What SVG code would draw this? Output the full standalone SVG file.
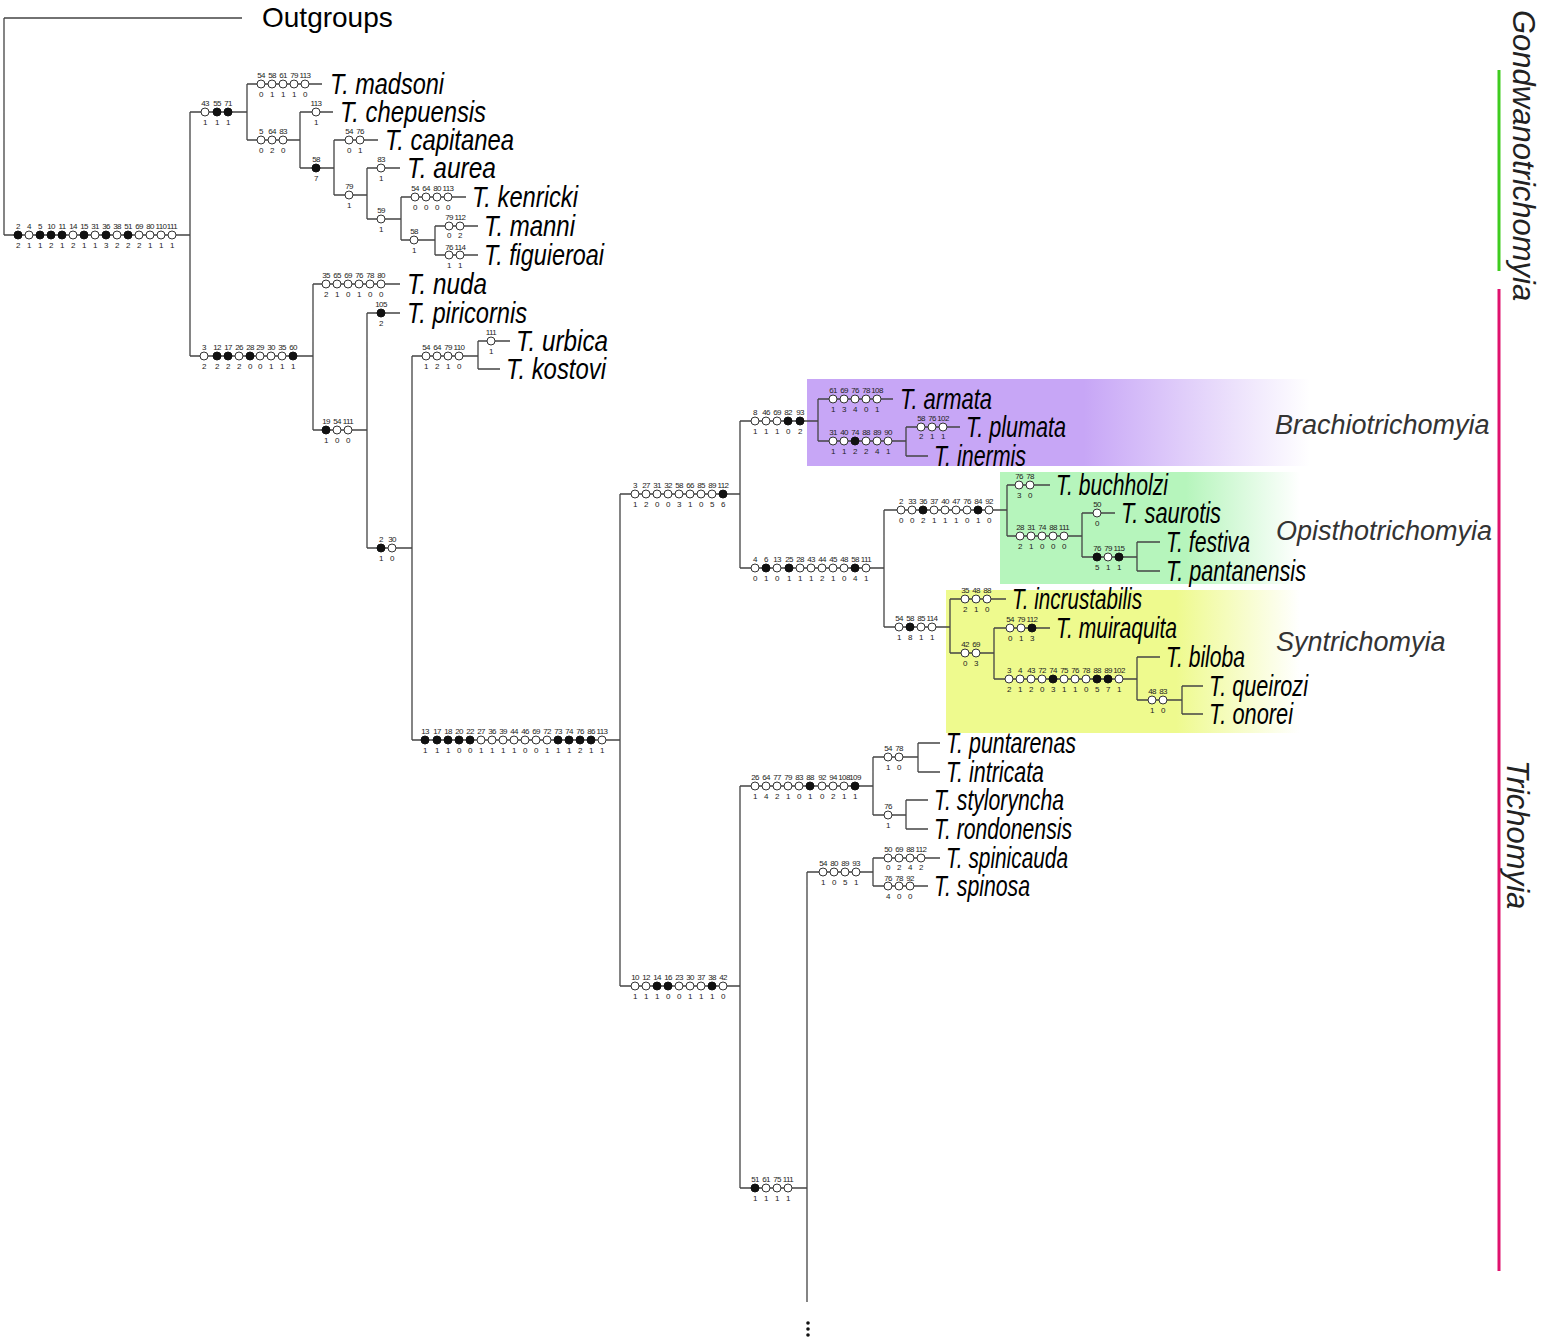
<svg xmlns="http://www.w3.org/2000/svg" width="1541" height="1341" viewBox="0 0 1541 1341">
<style>
.e{fill:none;stroke:#444;stroke-width:1.3}
.o{fill:#fff;stroke:#333;stroke-width:1}
.f{fill:#111;stroke:#111;stroke-width:1}
.n{font-family:"Liberation Sans",Arial,sans-serif;font-size:8px;letter-spacing:-0.6px;text-anchor:middle;fill:#222}
.t{font-family:"Liberation Sans",Arial,sans-serif;font-size:30px;font-style:italic;fill:#000}
.c{font-family:"Liberation Sans",Arial,sans-serif;font-size:27px;font-style:italic;fill:#333}
.g{font-family:"Liberation Sans",Arial,sans-serif;font-size:31px;font-style:italic;fill:#222}
</style>
<defs>
<linearGradient id="gp" x1="0" x2="1" y1="0" y2="0"><stop offset="0" stop-color="#c7a6f6"/><stop offset="0.55" stop-color="#c7a6f6"/><stop offset="1" stop-color="#c7a6f6" stop-opacity="0"/></linearGradient>
<linearGradient id="gg" x1="0" x2="1" y1="0" y2="0"><stop offset="0" stop-color="#b6f5bc"/><stop offset="0.62" stop-color="#b6f5bc"/><stop offset="1" stop-color="#b6f5bc" stop-opacity="0"/></linearGradient>
<linearGradient id="gy" x1="0" x2="1" y1="0" y2="0"><stop offset="0" stop-color="#eefa8e"/><stop offset="0.65" stop-color="#eefa8e"/><stop offset="1" stop-color="#eefa8e" stop-opacity="0"/></linearGradient>
</defs>
<rect width="1541" height="1341" fill="#fff"/>
<g id="clade-boxes">
<rect x="807" y="379" width="503" height="87" fill="url(#gp)"/>
<rect x="1000" y="472" width="300" height="112" fill="url(#gg)"/>
<rect x="946" y="590" width="354" height="143" fill="url(#gy)"/>
</g>
<g id="connectors" class="e">
<path d="M4 18V235M4 18H242M4 235H190M190 112V356M190 112H247M247 84V140M247 84H322M247 140H300M300 112V168M300 112H333M300 168H334M334 140V195M334 140H378M334 195H367M367 168V219M367 168H400M367 219H401M401 197V240M401 197H466M401 240H435M435 226V255M435 226H478M435 255H478"/>
<path d="M190 356H313M313 284V430M313 284H400M313 430H367M367 313V548M367 313H400M367 548H412M412 356V740M412 356H478M478 341V369M478 341H510M478 369H500M412 740H620M620 494V986M620 494H740M740 421V568M740 421H818M818 399V441M818 399H893M818 441H906M906 427V456M906 427H960M906 456H928"/>
<path d="M740 568H884M884 510V627M884 510H1007M1007 485V536M1007 485H1050M1007 536H1082M1082 513V557M1082 513H1115M1082 557H1137M1137 542V571M1137 542H1160M1137 571H1160M884 627H950M950 599V653M950 599H1006M950 653H994M994 628V679M994 628H1050M994 679H1137M1137 657V700M1137 657H1160M1137 700H1182M1182 686V714M1182 686H1203M1182 714H1203"/>
<path d="M620 986H740M740 786V1188M740 786H873M873 757V815M873 757H918M918 743V772M918 743H940M918 772H940M873 815H906M906 800V829M906 800H928M906 829H928M740 1188H807M807 872V1302M807 872H873M873 858V886M873 858H940M873 886H928"/>
</g>
<g id="outgroups"><text x="262" y="27" font-family="Liberation Sans, Arial, sans-serif" font-size="28" fill="#000">Outgroups</text></g>
<g id="tips" class="t">
<text id="t-madsoni" x="330" y="94" textLength="114" lengthAdjust="spacingAndGlyphs">T. madsoni</text>
<text id="t-chepuensis" x="340" y="122" textLength="146" lengthAdjust="spacingAndGlyphs">T. chepuensis</text>
<text id="t-capitanea" x="385" y="150" textLength="129" lengthAdjust="spacingAndGlyphs">T. capitanea</text>
<text id="t-aurea" x="407" y="178" textLength="89" lengthAdjust="spacingAndGlyphs">T. aurea</text>
<text id="t-kenricki" x="472" y="207" textLength="106" lengthAdjust="spacingAndGlyphs">T. kenricki</text>
<text id="t-manni" x="484" y="236" textLength="91" lengthAdjust="spacingAndGlyphs">T. manni</text>
<text id="t-figuieroai" x="484" y="265" textLength="120" lengthAdjust="spacingAndGlyphs">T. figuieroai</text>
<text id="t-nuda" x="407" y="294" textLength="80" lengthAdjust="spacingAndGlyphs">T. nuda</text>
<text id="t-piricornis" x="407" y="323" textLength="120" lengthAdjust="spacingAndGlyphs">T. piricornis</text>
<text id="t-urbica" x="516" y="351" textLength="92" lengthAdjust="spacingAndGlyphs">T. urbica</text>
<text id="t-kostovi" x="506" y="379" textLength="100" lengthAdjust="spacingAndGlyphs">T. kostovi</text>
<text id="t-armata" x="900" y="409" textLength="92" lengthAdjust="spacingAndGlyphs">T. armata</text>
<text id="t-plumata" x="966" y="437" textLength="100" lengthAdjust="spacingAndGlyphs">T. plumata</text>
<text id="t-inermis" x="934" y="466" textLength="92" lengthAdjust="spacingAndGlyphs">T. inermis</text>
<text id="t-buchholzi" x="1056" y="495" textLength="112" lengthAdjust="spacingAndGlyphs">T. buchholzi</text>
<text id="t-saurotis" x="1121" y="523" textLength="100" lengthAdjust="spacingAndGlyphs">T. saurotis</text>
<text id="t-festiva" x="1166" y="552" textLength="84" lengthAdjust="spacingAndGlyphs">T. festiva</text>
<text id="t-pantanensis" x="1166" y="581" textLength="140" lengthAdjust="spacingAndGlyphs">T. pantanensis</text>
<text id="t-incrustabilis" x="1012" y="609" textLength="130" lengthAdjust="spacingAndGlyphs">T. incrustabilis</text>
<text id="t-muiraquita" x="1056" y="638" textLength="121" lengthAdjust="spacingAndGlyphs">T. muiraquita</text>
<text id="t-biloba" x="1166" y="667" textLength="79" lengthAdjust="spacingAndGlyphs">T. biloba</text>
<text id="t-queirozi" x="1209" y="696" textLength="99" lengthAdjust="spacingAndGlyphs">T. queirozi</text>
<text id="t-onorei" x="1209" y="724" textLength="84" lengthAdjust="spacingAndGlyphs">T. onorei</text>
<text id="t-puntarenas" x="946" y="753" textLength="130" lengthAdjust="spacingAndGlyphs">T. puntarenas</text>
<text id="t-intricata" x="946" y="782" textLength="98" lengthAdjust="spacingAndGlyphs">T. intricata</text>
<text id="t-styloryncha" x="934" y="810" textLength="130" lengthAdjust="spacingAndGlyphs">T. styloryncha</text>
<text id="t-rondonensis" x="934" y="839" textLength="138" lengthAdjust="spacingAndGlyphs">T. rondonensis</text>
<text id="t-spinicauda" x="946" y="868" textLength="122" lengthAdjust="spacingAndGlyphs">T. spinicauda</text>
<text id="t-spinosa" x="934" y="896" textLength="96" lengthAdjust="spacingAndGlyphs">T. spinosa</text>
</g>
<g id="clade-labels" class="c">
<text x="1275" y="434">Brachiotrichomyia</text>
<text x="1276" y="540">Opisthotrichomyia</text>
<text x="1276" y="651">Syntrichomyia</text>
</g>
<g id="groups">
<path d="M1499 70V271" stroke="#3fcc1f" stroke-width="3"/>
<path d="M1499 289V1271" stroke="#e0126e" stroke-width="3"/>
<text class="g" transform="translate(1513,10) rotate(90)">Gondwanotrichomyia</text>
<text class="g" transform="translate(1507,760) rotate(90)">Trichomyia</text>
</g>
<g id="n-root" transform="translate(0,235)">
<circle class="f" cx="18" r="4"/><circle class="o" cx="29" r="4"/><circle class="f" cx="40" r="4"/><circle class="f" cx="51" r="4"/><circle class="f" cx="62" r="4"/><circle class="o" cx="73" r="4"/><circle class="f" cx="84" r="4"/><circle class="o" cx="95" r="4"/><circle class="f" cx="106" r="4"/><circle class="o" cx="117" r="4"/><circle class="f" cx="128" r="4"/><circle class="o" cx="139" r="4"/><circle class="o" cx="150" r="4"/><circle class="o" cx="161" r="4"/><circle class="o" cx="172" r="4"/>
<text class="n" y="-6"><tspan x="18">2</tspan><tspan x="29">4</tspan><tspan x="40">5</tspan><tspan x="51">10</tspan><tspan x="62">11</tspan><tspan x="73">14</tspan><tspan x="84">15</tspan><tspan x="95">31</tspan><tspan x="106">36</tspan><tspan x="117">38</tspan><tspan x="128">51</tspan><tspan x="139">69</tspan><tspan x="150">80</tspan><tspan x="161">110</tspan><tspan x="172">111</tspan></text>
<text class="n" y="13"><tspan x="18">2</tspan><tspan x="29">1</tspan><tspan x="40">1</tspan><tspan x="51">2</tspan><tspan x="62">1</tspan><tspan x="73">2</tspan><tspan x="84">1</tspan><tspan x="95">1</tspan><tspan x="106">3</tspan><tspan x="117">2</tspan><tspan x="128">2</tspan><tspan x="139">2</tspan><tspan x="150">1</tspan><tspan x="161">1</tspan><tspan x="172">1</tspan></text>
</g>
<g id="n-gondwano" transform="translate(0,112)">
<circle class="o" cx="205" r="4"/><circle class="f" cx="217" r="4"/><circle class="f" cx="228" r="4"/>
<text class="n" y="-6"><tspan x="205">43</tspan><tspan x="217">55</tspan><tspan x="228">71</tspan></text>
<text class="n" y="13"><tspan x="205">1</tspan><tspan x="217">1</tspan><tspan x="228">1</tspan></text>
</g>
<g id="n-madsoni" transform="translate(0,84)">
<circle class="o" cx="261" r="4"/><circle class="o" cx="272" r="4"/><circle class="o" cx="283" r="4"/><circle class="o" cx="294" r="4"/><circle class="o" cx="305" r="4"/>
<text class="n" y="-6"><tspan x="261">54</tspan><tspan x="272">58</tspan><tspan x="283">61</tspan><tspan x="294">79</tspan><tspan x="305">113</tspan></text>
<text class="n" y="13"><tspan x="261">0</tspan><tspan x="272">1</tspan><tspan x="283">1</tspan><tspan x="294">1</tspan><tspan x="305">0</tspan></text>
</g>
<g id="n-a1" transform="translate(0,140)">
<circle class="o" cx="261" r="4"/><circle class="o" cx="272" r="4"/><circle class="o" cx="283" r="4"/>
<text class="n" y="-6"><tspan x="261">5</tspan><tspan x="272">64</tspan><tspan x="283">83</tspan></text>
<text class="n" y="13"><tspan x="261">0</tspan><tspan x="272">2</tspan><tspan x="283">0</tspan></text>
</g>
<g id="n-chepuensis" transform="translate(0,112)">
<circle class="o" cx="316" r="4"/>
<text class="n" y="-6" x="316">113</text><text class="n" y="13" x="316">1</text>
</g>
<g id="n-a2" transform="translate(0,168)">
<circle class="f" cx="316" r="4"/>
<text class="n" y="-6" x="316">58</text><text class="n" y="13" x="316">7</text>
</g>
<g id="n-capitanea" transform="translate(0,140)">
<circle class="o" cx="349" r="4"/><circle class="o" cx="360" r="4"/>
<text class="n" y="-6"><tspan x="349">54</tspan><tspan x="360">76</tspan></text>
<text class="n" y="13"><tspan x="349">0</tspan><tspan x="360">1</tspan></text>
</g>
<g id="n-a3" transform="translate(0,195)">
<circle class="o" cx="349" r="4"/>
<text class="n" y="-6" x="349">79</text><text class="n" y="13" x="349">1</text>
</g>
<g id="n-aurea" transform="translate(0,168)">
<circle class="o" cx="381" r="4"/>
<text class="n" y="-6" x="381">83</text><text class="n" y="13" x="381">1</text>
</g>
<g id="n-a4" transform="translate(0,219)">
<circle class="o" cx="381" r="4"/>
<text class="n" y="-6" x="381">59</text><text class="n" y="13" x="381">1</text>
</g>
<g id="n-kenricki" transform="translate(0,197)">
<circle class="o" cx="415" r="4"/><circle class="o" cx="426" r="4"/><circle class="o" cx="437" r="4"/><circle class="o" cx="448" r="4"/>
<text class="n" y="-6"><tspan x="415">54</tspan><tspan x="426">64</tspan><tspan x="437">80</tspan><tspan x="448">113</tspan></text>
<text class="n" y="13"><tspan x="415">0</tspan><tspan x="426">0</tspan><tspan x="437">0</tspan><tspan x="448">0</tspan></text>
</g>
<g id="n-a5" transform="translate(0,240)">
<circle class="o" cx="414" r="4"/>
<text class="n" y="-6" x="414">58</text><text class="n" y="13" x="414">1</text>
</g>
<g id="n-manni" transform="translate(0,226)">
<circle class="o" cx="449" r="4"/><circle class="o" cx="460" r="4"/>
<text class="n" y="-6"><tspan x="449">79</tspan><tspan x="460">112</tspan></text>
<text class="n" y="12"><tspan x="449">0</tspan><tspan x="460">2</tspan></text>
</g>
<g id="n-figuieroai" transform="translate(0,255)">
<circle class="o" cx="449" r="4"/><circle class="o" cx="460" r="4"/>
<text class="n" y="-5"><tspan x="449">76</tspan><tspan x="460">114</tspan></text>
<text class="n" y="13"><tspan x="449">1</tspan><tspan x="460">1</tspan></text>
</g>
<g id="n-b1" transform="translate(0,356)">
<circle class="o" cx="204" r="4"/><circle class="f" cx="217" r="4"/><circle class="f" cx="228" r="4"/><circle class="o" cx="239" r="4"/><circle class="f" cx="250" r="4"/><circle class="o" cx="260" r="4"/><circle class="o" cx="271" r="4"/><circle class="o" cx="282" r="4"/><circle class="f" cx="293" r="4"/>
<text class="n" y="-6"><tspan x="204">3</tspan><tspan x="217">12</tspan><tspan x="228">17</tspan><tspan x="239">26</tspan><tspan x="250">28</tspan><tspan x="260">29</tspan><tspan x="271">30</tspan><tspan x="282">35</tspan><tspan x="293">60</tspan></text>
<text class="n" y="13"><tspan x="204">2</tspan><tspan x="217">2</tspan><tspan x="228">2</tspan><tspan x="239">2</tspan><tspan x="250">0</tspan><tspan x="260">0</tspan><tspan x="271">1</tspan><tspan x="282">1</tspan><tspan x="293">1</tspan></text>
</g>
<g id="n-nuda" transform="translate(0,284)">
<circle class="o" cx="326" r="4"/><circle class="o" cx="337" r="4"/><circle class="o" cx="348" r="4"/><circle class="o" cx="359" r="4"/><circle class="o" cx="370" r="4"/><circle class="o" cx="381" r="4"/>
<text class="n" y="-6"><tspan x="326">35</tspan><tspan x="337">65</tspan><tspan x="348">69</tspan><tspan x="359">76</tspan><tspan x="370">78</tspan><tspan x="381">80</tspan></text>
<text class="n" y="13"><tspan x="326">2</tspan><tspan x="337">1</tspan><tspan x="348">0</tspan><tspan x="359">1</tspan><tspan x="370">0</tspan><tspan x="381">0</tspan></text>
</g>
<g id="n-b2" transform="translate(0,430)">
<circle class="f" cx="326" r="4"/><circle class="o" cx="337" r="4"/><circle class="o" cx="348" r="4"/>
<text class="n" y="-6"><tspan x="326">19</tspan><tspan x="337">54</tspan><tspan x="348">111</tspan></text>
<text class="n" y="13"><tspan x="326">1</tspan><tspan x="337">0</tspan><tspan x="348">0</tspan></text>
</g>
<g id="n-piricornis" transform="translate(0,313)">
<circle class="f" cx="381" r="4"/>
<text class="n" y="-6" x="381">105</text><text class="n" y="13" x="381">2</text>
</g>
<g id="n-b3" transform="translate(0,548)">
<circle class="f" cx="381" r="4"/><circle class="o" cx="392" r="4"/>
<text class="n" y="-6"><tspan x="381">2</tspan><tspan x="392">30</tspan></text>
<text class="n" y="13"><tspan x="381">1</tspan><tspan x="392">0</tspan></text>
</g>
<g id="n-b4" transform="translate(0,356)">
<circle class="o" cx="426" r="4"/><circle class="o" cx="437" r="4"/><circle class="o" cx="448" r="4"/><circle class="o" cx="459" r="4"/>
<text class="n" y="-6"><tspan x="426">54</tspan><tspan x="437">64</tspan><tspan x="448">79</tspan><tspan x="459">110</tspan></text>
<text class="n" y="13"><tspan x="426">1</tspan><tspan x="437">2</tspan><tspan x="448">1</tspan><tspan x="459">0</tspan></text>
</g>
<g id="n-urbica" transform="translate(0,341)">
<circle class="o" cx="491" r="4"/>
<text class="n" y="-6" x="491">111</text><text class="n" y="13" x="491">1</text>
</g>
<g id="n-b5" transform="translate(0,740)">
<circle class="f" cx="425" r="4"/><circle class="f" cx="437" r="4"/><circle class="f" cx="448" r="4"/><circle class="f" cx="459" r="4"/><circle class="f" cx="470" r="4"/><circle class="o" cx="481" r="4"/><circle class="o" cx="492" r="4"/><circle class="o" cx="503" r="4"/><circle class="o" cx="514" r="4"/><circle class="o" cx="525" r="4"/><circle class="o" cx="536" r="4"/><circle class="o" cx="547" r="4"/><circle class="f" cx="558" r="4"/><circle class="f" cx="569" r="4"/><circle class="f" cx="580" r="4"/><circle class="f" cx="591" r="4"/><circle class="o" cx="602" r="4"/>
<text class="n" y="-6"><tspan x="425">13</tspan><tspan x="437">17</tspan><tspan x="448">18</tspan><tspan x="459">20</tspan><tspan x="470">22</tspan><tspan x="481">27</tspan><tspan x="492">36</tspan><tspan x="503">39</tspan><tspan x="514">44</tspan><tspan x="525">46</tspan><tspan x="536">69</tspan><tspan x="547">72</tspan><tspan x="558">73</tspan><tspan x="569">74</tspan><tspan x="580">76</tspan><tspan x="591">86</tspan><tspan x="602">113</tspan></text>
<text class="n" y="13"><tspan x="425">1</tspan><tspan x="437">1</tspan><tspan x="448">1</tspan><tspan x="459">0</tspan><tspan x="470">0</tspan><tspan x="481">1</tspan><tspan x="492">1</tspan><tspan x="503">1</tspan><tspan x="514">1</tspan><tspan x="525">0</tspan><tspan x="536">0</tspan><tspan x="547">1</tspan><tspan x="558">1</tspan><tspan x="569">1</tspan><tspan x="580">2</tspan><tspan x="591">1</tspan><tspan x="602">1</tspan></text>
</g>
<g id="n-c1" transform="translate(0,494)">
<circle class="o" cx="635" r="4"/><circle class="o" cx="646" r="4"/><circle class="o" cx="657" r="4"/><circle class="o" cx="668" r="4"/><circle class="o" cx="679" r="4"/><circle class="o" cx="690" r="4"/><circle class="o" cx="701" r="4"/><circle class="o" cx="712" r="4"/><circle class="f" cx="723" r="4"/>
<text class="n" y="-6"><tspan x="635">3</tspan><tspan x="646">27</tspan><tspan x="657">31</tspan><tspan x="668">32</tspan><tspan x="679">58</tspan><tspan x="690">66</tspan><tspan x="701">85</tspan><tspan x="712">89</tspan><tspan x="723">112</tspan></text>
<text class="n" y="13"><tspan x="635">1</tspan><tspan x="646">2</tspan><tspan x="657">0</tspan><tspan x="668">0</tspan><tspan x="679">3</tspan><tspan x="690">1</tspan><tspan x="701">0</tspan><tspan x="712">5</tspan><tspan x="723">6</tspan></text>
</g>
<g id="n-brachio" transform="translate(0,421)">
<circle class="o" cx="755" r="4"/><circle class="o" cx="766" r="4"/><circle class="o" cx="777" r="4"/><circle class="f" cx="788" r="4"/><circle class="f" cx="800" r="4"/>
<text class="n" y="-6"><tspan x="755">8</tspan><tspan x="766">46</tspan><tspan x="777">69</tspan><tspan x="788">82</tspan><tspan x="800">93</tspan></text>
<text class="n" y="13"><tspan x="755">1</tspan><tspan x="766">1</tspan><tspan x="777">1</tspan><tspan x="788">0</tspan><tspan x="800">2</tspan></text>
</g>
<g id="n-armata" transform="translate(0,399)">
<circle class="o" cx="833" r="4"/><circle class="o" cx="844" r="4"/><circle class="o" cx="855" r="4"/><circle class="o" cx="866" r="4"/><circle class="o" cx="877" r="4"/>
<text class="n" y="-6"><tspan x="833">61</tspan><tspan x="844">69</tspan><tspan x="855">76</tspan><tspan x="866">78</tspan><tspan x="877">108</tspan></text>
<text class="n" y="13"><tspan x="833">1</tspan><tspan x="844">3</tspan><tspan x="855">4</tspan><tspan x="866">0</tspan><tspan x="877">1</tspan></text>
</g>
<g id="n-c2" transform="translate(0,441)">
<circle class="o" cx="833" r="4"/><circle class="o" cx="844" r="4"/><circle class="f" cx="855" r="4"/><circle class="o" cx="866" r="4"/><circle class="o" cx="877" r="4"/><circle class="o" cx="888" r="4"/>
<text class="n" y="-6"><tspan x="833">31</tspan><tspan x="844">40</tspan><tspan x="855">74</tspan><tspan x="866">88</tspan><tspan x="877">89</tspan><tspan x="888">90</tspan></text>
<text class="n" y="13"><tspan x="833">1</tspan><tspan x="844">1</tspan><tspan x="855">2</tspan><tspan x="866">2</tspan><tspan x="877">4</tspan><tspan x="888">1</tspan></text>
</g>
<g id="n-plumata" transform="translate(0,427)">
<circle class="o" cx="921" r="4"/><circle class="o" cx="932" r="4"/><circle class="o" cx="943" r="4"/>
<text class="n" y="-6"><tspan x="921">58</tspan><tspan x="932">76</tspan><tspan x="943">102</tspan></text>
<text class="n" y="12"><tspan x="921">2</tspan><tspan x="932">1</tspan><tspan x="943">1</tspan></text>
</g>
<g id="n-c3" transform="translate(0,568)">
<circle class="o" cx="755" r="4"/><circle class="f" cx="766" r="4"/><circle class="o" cx="777" r="4"/><circle class="f" cx="789" r="4"/><circle class="o" cx="800" r="4"/><circle class="o" cx="811" r="4"/><circle class="o" cx="822" r="4"/><circle class="o" cx="833" r="4"/><circle class="o" cx="844" r="4"/><circle class="f" cx="855" r="4"/><circle class="o" cx="866" r="4"/>
<text class="n" y="-6"><tspan x="755">4</tspan><tspan x="766">6</tspan><tspan x="777">13</tspan><tspan x="789">25</tspan><tspan x="800">28</tspan><tspan x="811">43</tspan><tspan x="822">44</tspan><tspan x="833">45</tspan><tspan x="844">48</tspan><tspan x="855">58</tspan><tspan x="866">111</tspan></text>
<text class="n" y="13"><tspan x="755">0</tspan><tspan x="766">1</tspan><tspan x="777">0</tspan><tspan x="789">1</tspan><tspan x="800">1</tspan><tspan x="811">1</tspan><tspan x="822">2</tspan><tspan x="833">1</tspan><tspan x="844">0</tspan><tspan x="855">4</tspan><tspan x="866">1</tspan></text>
</g>
<g id="n-opistho" transform="translate(0,510)">
<circle class="o" cx="901" r="4"/><circle class="o" cx="912" r="4"/><circle class="f" cx="923" r="4"/><circle class="o" cx="934" r="4"/><circle class="o" cx="945" r="4"/><circle class="o" cx="956" r="4"/><circle class="o" cx="967" r="4"/><circle class="f" cx="978" r="4"/><circle class="o" cx="989" r="4"/>
<text class="n" y="-6"><tspan x="901">2</tspan><tspan x="912">33</tspan><tspan x="923">36</tspan><tspan x="934">37</tspan><tspan x="945">40</tspan><tspan x="956">47</tspan><tspan x="967">76</tspan><tspan x="978">84</tspan><tspan x="989">92</tspan></text>
<text class="n" y="13"><tspan x="901">0</tspan><tspan x="912">0</tspan><tspan x="923">2</tspan><tspan x="934">1</tspan><tspan x="945">1</tspan><tspan x="956">1</tspan><tspan x="967">0</tspan><tspan x="978">1</tspan><tspan x="989">0</tspan></text>
</g>
<g id="n-buchholzi" transform="translate(0,485)">
<circle class="o" cx="1019" r="4"/><circle class="o" cx="1030" r="4"/>
<text class="n" y="-6"><tspan x="1019">76</tspan><tspan x="1030">78</tspan></text>
<text class="n" y="13"><tspan x="1019">3</tspan><tspan x="1030">0</tspan></text>
</g>
<g id="n-d1" transform="translate(0,536)">
<circle class="o" cx="1020" r="4"/><circle class="o" cx="1031" r="4"/><circle class="o" cx="1042" r="4"/><circle class="o" cx="1053" r="4"/><circle class="o" cx="1064" r="4"/>
<text class="n" y="-6"><tspan x="1020">28</tspan><tspan x="1031">31</tspan><tspan x="1042">74</tspan><tspan x="1053">88</tspan><tspan x="1064">111</tspan></text>
<text class="n" y="13"><tspan x="1020">2</tspan><tspan x="1031">1</tspan><tspan x="1042">0</tspan><tspan x="1053">0</tspan><tspan x="1064">0</tspan></text>
</g>
<g id="n-saurotis" transform="translate(0,513)">
<circle class="o" cx="1097" r="4"/>
<text class="n" y="-6" x="1097">50</text><text class="n" y="13" x="1097">0</text>
</g>
<g id="n-d2" transform="translate(0,557)">
<circle class="f" cx="1097" r="4"/><circle class="o" cx="1108" r="4"/><circle class="f" cx="1119" r="4"/>
<text class="n" y="-6"><tspan x="1097">76</tspan><tspan x="1108">79</tspan><tspan x="1119">115</tspan></text>
<text class="n" y="13"><tspan x="1097">5</tspan><tspan x="1108">1</tspan><tspan x="1119">1</tspan></text>
</g>
<g id="n-syn" transform="translate(0,627)">
<circle class="o" cx="899" r="4"/><circle class="f" cx="910" r="4"/><circle class="o" cx="921" r="4"/><circle class="o" cx="932" r="4"/>
<text class="n" y="-6"><tspan x="899">54</tspan><tspan x="910">58</tspan><tspan x="921">85</tspan><tspan x="932">114</tspan></text>
<text class="n" y="13"><tspan x="899">1</tspan><tspan x="910">8</tspan><tspan x="921">1</tspan><tspan x="932">1</tspan></text>
</g>
<g id="n-incrustabilis" transform="translate(0,599)">
<circle class="o" cx="965" r="4"/><circle class="o" cx="976" r="4"/><circle class="o" cx="987" r="4"/>
<text class="n" y="-6"><tspan x="965">35</tspan><tspan x="976">48</tspan><tspan x="987">88</tspan></text>
<text class="n" y="13"><tspan x="965">2</tspan><tspan x="976">1</tspan><tspan x="987">0</tspan></text>
</g>
<g id="n-e1" transform="translate(0,653)">
<circle class="o" cx="965" r="4"/><circle class="o" cx="976" r="4"/>
<text class="n" y="-6"><tspan x="965">42</tspan><tspan x="976">69</tspan></text>
<text class="n" y="13"><tspan x="965">0</tspan><tspan x="976">3</tspan></text>
</g>
<g id="n-muiraquita" transform="translate(0,628)">
<circle class="o" cx="1010" r="4"/><circle class="o" cx="1021" r="4"/><circle class="f" cx="1032" r="4"/>
<text class="n" y="-6"><tspan x="1010">54</tspan><tspan x="1021">79</tspan><tspan x="1032">112</tspan></text>
<text class="n" y="13"><tspan x="1010">0</tspan><tspan x="1021">1</tspan><tspan x="1032">3</tspan></text>
</g>
<g id="n-e2" transform="translate(0,679)">
<circle class="o" cx="1009" r="4"/><circle class="o" cx="1020" r="4"/><circle class="o" cx="1031" r="4"/><circle class="o" cx="1042" r="4"/><circle class="f" cx="1053" r="4"/><circle class="o" cx="1064" r="4"/><circle class="o" cx="1075" r="4"/><circle class="o" cx="1086" r="4"/><circle class="f" cx="1097" r="4"/><circle class="f" cx="1108" r="4"/><circle class="o" cx="1119" r="4"/>
<text class="n" y="-6"><tspan x="1009">3</tspan><tspan x="1020">4</tspan><tspan x="1031">43</tspan><tspan x="1042">72</tspan><tspan x="1053">74</tspan><tspan x="1064">75</tspan><tspan x="1075">76</tspan><tspan x="1086">78</tspan><tspan x="1097">88</tspan><tspan x="1108">89</tspan><tspan x="1119">102</tspan></text>
<text class="n" y="13"><tspan x="1009">2</tspan><tspan x="1020">1</tspan><tspan x="1031">2</tspan><tspan x="1042">0</tspan><tspan x="1053">3</tspan><tspan x="1064">1</tspan><tspan x="1075">1</tspan><tspan x="1086">0</tspan><tspan x="1097">5</tspan><tspan x="1108">7</tspan><tspan x="1119">1</tspan></text>
</g>
<g id="n-e3" transform="translate(0,700)">
<circle class="o" cx="1152" r="4"/><circle class="o" cx="1163" r="4"/>
<text class="n" y="-6"><tspan x="1152">48</tspan><tspan x="1163">83</tspan></text>
<text class="n" y="13"><tspan x="1152">1</tspan><tspan x="1163">0</tspan></text>
</g>
<g id="n-f1" transform="translate(0,986)">
<circle class="o" cx="635" r="4"/><circle class="o" cx="646" r="4"/><circle class="f" cx="657" r="4"/><circle class="f" cx="668" r="4"/><circle class="o" cx="679" r="4"/><circle class="o" cx="690" r="4"/><circle class="o" cx="701" r="4"/><circle class="f" cx="712" r="4"/><circle class="o" cx="723" r="4"/>
<text class="n" y="-6"><tspan x="635">10</tspan><tspan x="646">12</tspan><tspan x="657">14</tspan><tspan x="668">16</tspan><tspan x="679">23</tspan><tspan x="690">30</tspan><tspan x="701">37</tspan><tspan x="712">38</tspan><tspan x="723">42</tspan></text>
<text class="n" y="13"><tspan x="635">1</tspan><tspan x="646">1</tspan><tspan x="657">1</tspan><tspan x="668">0</tspan><tspan x="679">0</tspan><tspan x="690">1</tspan><tspan x="701">1</tspan><tspan x="712">1</tspan><tspan x="723">0</tspan></text>
</g>
<g id="n-f2" transform="translate(0,786)">
<circle class="o" cx="755" r="4"/><circle class="o" cx="766" r="4"/><circle class="o" cx="777" r="4"/><circle class="o" cx="788" r="4"/><circle class="o" cx="799" r="4"/><circle class="f" cx="810" r="4"/><circle class="o" cx="822" r="4"/><circle class="o" cx="833" r="4"/><circle class="o" cx="844" r="4"/><circle class="f" cx="855" r="4"/>
<text class="n" y="-6"><tspan x="755">26</tspan><tspan x="766">64</tspan><tspan x="777">77</tspan><tspan x="788">79</tspan><tspan x="799">83</tspan><tspan x="810">88</tspan><tspan x="822">92</tspan><tspan x="833">94</tspan><tspan x="844">108</tspan><tspan x="855">109</tspan></text>
<text class="n" y="13"><tspan x="755">1</tspan><tspan x="766">4</tspan><tspan x="777">2</tspan><tspan x="788">1</tspan><tspan x="799">0</tspan><tspan x="810">1</tspan><tspan x="822">0</tspan><tspan x="833">2</tspan><tspan x="844">1</tspan><tspan x="855">1</tspan></text>
</g>
<g id="n-f3" transform="translate(0,757)">
<circle class="o" cx="888" r="4"/><circle class="o" cx="899" r="4"/>
<text class="n" y="-6"><tspan x="888">54</tspan><tspan x="899">78</tspan></text>
<text class="n" y="13"><tspan x="888">1</tspan><tspan x="899">0</tspan></text>
</g>
<g id="n-f4" transform="translate(0,815)">
<circle class="o" cx="888" r="4"/>
<text class="n" y="-6" x="888">76</text><text class="n" y="13" x="888">1</text>
</g>
<g id="n-g1" transform="translate(0,1188)">
<circle class="f" cx="755" r="4"/><circle class="o" cx="766" r="4"/><circle class="o" cx="777" r="4"/><circle class="o" cx="788" r="4"/>
<text class="n" y="-6"><tspan x="755">51</tspan><tspan x="766">61</tspan><tspan x="777">75</tspan><tspan x="788">111</tspan></text>
<text class="n" y="13"><tspan x="755">1</tspan><tspan x="766">1</tspan><tspan x="777">1</tspan><tspan x="788">1</tspan></text>
</g>
<g id="n-g2" transform="translate(0,872)">
<circle class="o" cx="823" r="4"/><circle class="o" cx="834" r="4"/><circle class="o" cx="845" r="4"/><circle class="o" cx="856" r="4"/>
<text class="n" y="-6"><tspan x="823">54</tspan><tspan x="834">80</tspan><tspan x="845">89</tspan><tspan x="856">93</tspan></text>
<text class="n" y="13"><tspan x="823">1</tspan><tspan x="834">0</tspan><tspan x="845">5</tspan><tspan x="856">1</tspan></text>
</g>
<g id="n-spinicauda" transform="translate(0,858)">
<circle class="o" cx="888" r="4"/><circle class="o" cx="899" r="4"/><circle class="o" cx="910" r="4"/><circle class="o" cx="921" r="4"/>
<text class="n" y="-6"><tspan x="888">50</tspan><tspan x="899">69</tspan><tspan x="910">88</tspan><tspan x="921">112</tspan></text>
<text class="n" y="12"><tspan x="888">0</tspan><tspan x="899">2</tspan><tspan x="910">4</tspan><tspan x="921">2</tspan></text>
</g>
<g id="n-spinosa" transform="translate(0,886)">
<circle class="o" cx="888" r="4"/><circle class="o" cx="899" r="4"/><circle class="o" cx="910" r="4"/>
<text class="n" y="-5"><tspan x="888">76</tspan><tspan x="899">78</tspan><tspan x="910">92</tspan></text>
<text class="n" y="13"><tspan x="888">4</tspan><tspan x="899">0</tspan><tspan x="910">0</tspan></text>
</g>
<g id="continuation" fill="#111">
<circle cx="808" cy="1323" r="1.8"/><circle cx="808" cy="1329" r="1.8"/><circle cx="808" cy="1335" r="1.8"/>
</g>
</svg>
